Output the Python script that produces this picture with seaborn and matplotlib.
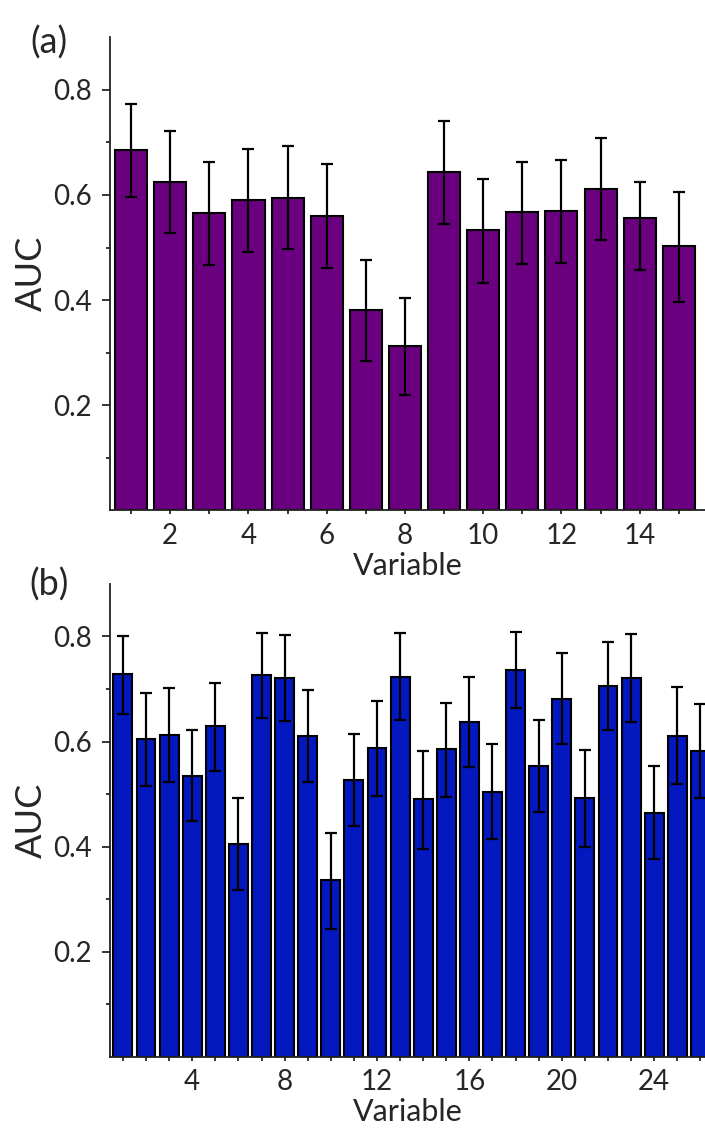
import numpy as np
import pandas as pd
import matplotlib
matplotlib.use("Agg")
import matplotlib.pyplot as plt
import seaborn as sns

# panel (a): 15 variables
var_a = list(range(1, 16))
auc_a = [0.686, 0.625, 0.566, 0.590, 0.595, 0.560, 0.381, 0.312,
         0.643, 0.533, 0.567, 0.570, 0.611, 0.557, 0.502]
hi_a = [0.773, 0.722, 0.662, 0.687, 0.694, 0.658, 0.477, 0.403,
        0.740, 0.630, 0.663, 0.667, 0.709, 0.625, 0.606]
lo_a = [0.597, 0.528, 0.467, 0.491, 0.497, 0.461, 0.284, 0.220,
        0.545, 0.433, 0.469, 0.471, 0.514, 0.457, 0.397]

# panel (b): 26 variables
var_b = list(range(1, 27))
auc_b = [0.728, 0.605, 0.613, 0.535, 0.629, 0.406, 0.726, 0.721, 0.611,
         0.336, 0.527, 0.587, 0.723, 0.490, 0.585, 0.638, 0.504, 0.737,
         0.553, 0.682, 0.492, 0.706, 0.721, 0.465, 0.611, 0.582]
hi_b = [0.800, 0.693, 0.702, 0.622, 0.711, 0.492, 0.806, 0.803, 0.699,
        0.427, 0.615, 0.678, 0.806, 0.583, 0.674, 0.722, 0.595, 0.809,
        0.641, 0.768, 0.584, 0.790, 0.804, 0.554, 0.703, 0.672]
lo_b = [0.653, 0.516, 0.523, 0.448, 0.545, 0.318, 0.645, 0.639, 0.523,
        0.244, 0.440, 0.497, 0.641, 0.396, 0.495, 0.552, 0.415, 0.664,
        0.466, 0.596, 0.399, 0.622, 0.638, 0.377, 0.520, 0.493]

sns.set_style("ticks")
plt.rcParams["font.family"] = ["Lato", "DejaVu Sans"]
plt.rcParams["axes.linewidth"] = 1.3
plt.rcParams["axes.edgecolor"] = "#222222"

fig = plt.figure(figsize=(7.05, 11.29), dpi=100)
ax1 = fig.add_axes([0.156, 0.548, 0.844, 0.419])
ax2 = fig.add_axes([0.156, 0.0638, 0.844, 0.419])


def draw(ax, var, auc, hi, lo, color, xlim, major):
    df = pd.DataFrame({"Variable": var, "AUC": auc})
    sns.barplot(data=df, x="Variable", y="AUC", native_scale=True,
                color=color, saturation=1, width=0.82,
                edgecolor="black", linewidth=1.5, errorbar=None, ax=ax)
    auc = np.array(auc)
    yerr = [auc - np.array(lo), np.array(hi) - auc]
    ax.errorbar(var, auc, yerr=yerr, fmt="none", ecolor="black",
                elinewidth=1.6, capsize=4, capthick=1.6)
    ax.set_xlim(*xlim)
    ax.set_ylim(0, 0.9)
    ax.set_yticks([0.2, 0.4, 0.6, 0.8])
    ax.set_yticks([0.1, 0.3, 0.5, 0.7], minor=True)
    ax.set_yticklabels(["0.2", "0.4", "0.6", "0.8"])
    ax.set_xticks(major)
    ax.set_xticklabels([str(m) for m in major])
    ax.set_xticks(var, minor=True)
    ax.tick_params(axis="y", which="major", length=6, width=1.3,
                   labelsize=20, pad=7)
    ax.tick_params(axis="y", which="minor", length=3, width=1.3)
    ax.tick_params(axis="x", which="both", length=3, width=1.3,
                   labelsize=20, pad=6)
    ax.set_xlabel("Variable", fontsize=22, labelpad=2)
    ax.set_ylabel("AUC", fontsize=26, labelpad=4)
    sns.despine(ax=ax, top=True, right=True)


draw(ax1, var_a, auc_a, hi_a, lo_a, "#6A0080", (0.46, 15.67),
     [2, 4, 6, 8, 10, 12, 14])
draw(ax2, var_b, auc_b, hi_b, lo_b, "#0318BE", (0.44, 26.2),
     [4, 8, 12, 16, 20, 24])

fig.text(0.07, 0.962, "(a)", fontsize=26, ha="center", va="center")
fig.text(0.07, 0.482, "(b)", fontsize=26, ha="center", va="center")

fig.savefig("out.png", dpi=100)
